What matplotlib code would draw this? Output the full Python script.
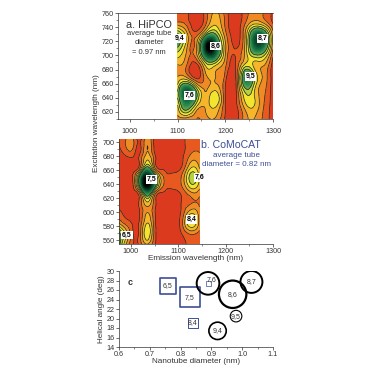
import numpy as np
import matplotlib
matplotlib.use('Agg')
import matplotlib.pyplot as plt
import matplotlib.tri as mtri
from matplotlib.colors import LinearSegmentedColormap

plt.rcParams['font.family'] = ['Liberation Sans', 'DejaVu Sans']

# panel a, HiPCO
hipco_em = [1100, 1120, 1140, 1160, 1180, 1200, 1220, 1240, 1260, 1280, 1300]
hipco_ex = [610, 625, 640, 655, 670, 685, 700, 715, 730, 745, 760]
hipco_z = [
    [2.6, 2.4, 2.0, 2.6, 2.8, 0.8, 0.3, 2.4, 3.0, 1.8, 0.5],
    [3.6, 6.5, 3.5, 3.2, 3.8, 1.0, 0.3, 3.0, 3.8, 2.0, 0.5],
    [5.0, 9.0, 6.0, 3.4, 4.8, 1.0, 0.3, 4.2, 4.2, 2.2, 0.5],
    [4.4, 8.0, 4.5, 2.8, 3.4, 1.0, 0.3, 6.0, 4.6, 2.4, 0.4],
    [3.0, 2.6, 0.5, 2.8, 3.0, 1.6, 0.5, 7.2, 5.6, 2.8, 0.4],
    [2.8, 1.8, 0.5, 4.2, 3.8, 2.2, 0.8, 4.5, 3.8, 3.0, 0.4],
    [4.4, 2.6, 2.8, 8.5, 8.0, 3.0, 1.0, 3.0, 5.6, 5.2, 1.2],
    [6.5, 3.2, 3.0, 10.5, 9.0, 3.2, 0.8, 2.8, 8.5, 8.5, 2.4],
    [6.2, 3.2, 1.6, 5.5, 6.0, 2.4, 0.5, 2.6, 8.0, 8.0, 2.4],
    [2.4, 1.6, 0.3, 2.0, 3.8, 1.8, 0.3, 1.8, 3.8, 3.2, 1.0],
    [1.6, 1.2, 0.4, 1.6, 3.2, 1.6, 0.4, 1.4, 2.6, 2.0, 0.8],
]
hipco_labels = ['9,4', '8,6', '8,7', '9,5', '7,6']
hipco_label_em = [1105, 1180, 1278, 1253, 1125]
hipco_label_ex = [724, 713, 724, 670, 643]

# panel b, CoMoCAT
como_em = [975, 990, 1005, 1020, 1035, 1050, 1065, 1080, 1095, 1110, 1125, 1145]
como_ex = [555, 570, 585, 600, 615, 630, 645, 660, 675, 690, 705]
como_z = [
    [6.5, 3.0, 1.0, 1.5, 3.0, 1.2, 0.4, 0.3, 0.4, 0.8, 1.2, 1.2],
    [6.5, 3.6, 1.0, 1.8, 4.8, 1.6, 0.4, 0.3, 0.4, 1.2, 2.2, 1.6],
    [3.0, 1.6, 0.8, 1.5, 4.0, 1.4, 0.4, 0.3, 0.4, 2.2, 4.8, 2.6],
    [1.2, 0.8, 0.6, 1.2, 3.0, 1.2, 0.4, 0.3, 0.4, 1.6, 3.6, 2.4],
    [0.5, 0.5, 0.6, 1.5, 4.0, 1.5, 0.4, 0.3, 0.4, 1.2, 1.8, 1.8],
    [0.4, 0.5, 0.7, 3.5, 8.5, 3.8, 1.2, 0.6, 0.8, 1.6, 3.0, 2.6],
    [0.4, 0.5, 1.2, 8.0, 11.5, 8.0, 2.8, 1.6, 1.6, 2.6, 5.2, 3.8],
    [0.4, 0.5, 0.7, 3.5, 8.0, 3.5, 1.2, 0.6, 0.8, 1.8, 4.4, 3.2],
    [0.4, 0.5, 0.6, 1.5, 4.0, 1.5, 0.5, 0.4, 0.5, 1.0, 2.6, 2.4],
    [0.8, 1.8, 1.8, 0.8, 3.0, 0.8, 0.4, 0.4, 0.5, 0.8, 1.6, 1.8],
    [1.0, 2.0, 2.0, 0.7, 2.6, 0.7, 0.4, 0.4, 0.5, 0.8, 1.6, 1.8],
]
como_labels = ['7,5', '7,6', '8,4', '6,5']
como_label_em = [1043, 1146, 1128, 992]
como_label_ex = [647, 650, 590, 568]

# panel c
square_d = [0.759, 0.829, 0.84, 0.89]
square_a = [26.9, 24.5, 19.1, 27.4]
square_size = [132, 207, 52, 16]
square_lw = [1.2, 1.2, 0.7, 0.5]
square_names = ['6,5', '7,5', '8,4', '']
circle_d = [0.889, 0.969, 1.03, 0.98, 0.92]
circle_a = [27.4, 25.1, 27.7, 20.5, 17.4]
circle_size = [266, 390, 250, 70, 156]
circle_lw = [1.4, 1.6, 1.4, 0.8, 1.2]
circle_names = ['7,6', '8,6', '8,7', '9,5', '9,4']

levels = [-5, 1, 2, 3, 4, 5, 6]
band_colors = ['#dc3a1f', '#e8591f', '#f08a24', '#f6b52a', '#f3e52f', '#b8cf3e']
peak_levels = np.arange(6, 12.6, 0.25)
peak_cmap = LinearSegmentedColormap.from_list('peak', ['#7fb24a', '#2f8f52', '#12683c',
                                                       '#0a4028', '#000000', '#000000'])
blue = '#3d4f96'
grey = '#333333'


def contour_panel(ax, em, ex, z):
    xx, yy = np.meshgrid(em, ex)
    tri = mtri.Triangulation(xx.ravel(), yy.ravel())
    refiner = mtri.UniformTriRefiner(tri)
    t2, z2 = refiner.refine_field(np.array(z).ravel(), subdiv=3)
    ax.tricontourf(t2, z2, levels=levels, colors=band_colors)
    ax.tricontourf(t2, z2, levels=peak_levels, cmap=peak_cmap)
    # lines stop at the rim of the green peaks
    ax.tricontour(t2, z2, levels=levels[1:], colors='#222222', linewidths=0.5)


def label_peaks(ax, xs, ys, names):
    for x, y, name in zip(xs, ys, names):
        ax.text(x, y, name, ha='center', va='center', fontsize=5, fontweight='bold',
                bbox=dict(facecolor='white', edgecolor='none', pad=0.5))


def style_axis(ax):
    ax.tick_params(axis='both', which='major', labelsize=5.2, length=2.2, width=0.5,
                   pad=1, colors=grey)
    ax.tick_params(axis='both', which='minor', length=1.3, width=0.4, colors=grey)
    for s in ax.spines.values():
        s.set_linewidth(0.5)
        s.set_color(grey)


W = 372.0
fig = plt.figure(figsize=(3.72, 3.72), dpi=100)
fig.patch.set_facecolor('white')

# a
ax1 = fig.add_axes([118 / W, 1 - 119 / W, 155 / W, 106 / W])
contour_panel(ax1, hipco_em, hipco_ex, hipco_z)
label_peaks(ax1, hipco_label_em, hipco_label_ex, hipco_labels)
ax1.set_xlim(975, 1300)
ax1.set_ylim(610, 760)
ax1.set_xticks([1000, 1100, 1200, 1300])
ax1.set_xticks([1050, 1150, 1250], minor=True)
ax1.set_yticks(np.arange(620, 761, 20))
ax1.set_yticks(np.arange(610, 760, 20), minor=True)
style_axis(ax1)
ax1.spines['right'].set_visible(False)
ax1.tick_params(axis='x', which='major', pad=4)
ax1.text(0.05, 0.89, 'a. HiPCO', transform=ax1.transAxes, fontsize=7.8, color=grey, va='center')
ax1.text(0.2, 0.717, 'average tube\ndiameter\n= 0.97 nm', transform=ax1.transAxes, fontsize=5.4,
         color=grey, ha='center', va='center', linespacing=1.45)

# b
ax2 = fig.add_axes([119 / W, 1 - 244 / W, 154 / W, 105 / W])
contour_panel(ax2, como_em, como_ex, como_z)
label_peaks(ax2, como_label_em, como_label_ex, como_labels)
ax2.set_xlim(975, 1300)
ax2.set_ylim(555, 705)
ax2.set_xticks([1000, 1100, 1200, 1300])
ax2.set_xticks([1050, 1150, 1250], minor=True)
ax2.set_yticks(np.arange(560, 701, 20))
ax2.set_yticks(np.arange(570, 705, 20), minor=True)
style_axis(ax2)
ax2.spines['top'].set_visible(False)
ax2.spines['right'].set_visible(False)
ax2.set_xlabel('Emission wavelength (nm)', fontsize=5.9, labelpad=-0.5, color=grey)
ax2.text(0.53, 0.94, 'b. CoMoCAT', transform=ax2.transAxes, fontsize=7.6, color=blue, va='center')
ax2.text(0.765, 0.80, 'average tube\ndiameter = 0.82 nm', transform=ax2.transAxes, fontsize=5.8,
         color=blue, ha='center', va='center', linespacing=1.3)
fig.text(96 / W, 1 - 123 / W, 'Excitation wavelength (nm)', rotation=90, fontsize=5.9,
         ha='center', va='center', color=grey)

# c
ax3 = fig.add_axes([119 / W, 1 - 347 / W, 154 / W, 76 / W])
ax3.scatter(square_d, square_a, s=square_size, marker='s', facecolors='white',
            edgecolors=blue, linewidths=square_lw, zorder=2)
ax3.scatter(circle_d, circle_a, s=circle_size, marker='o', facecolors='none',
            edgecolors='black', linewidths=circle_lw, zorder=3)
for d, a, name in zip(square_d, square_a, square_names):
    ax3.text(d, a, name, fontsize=5, ha='center', va='center', color=grey, zorder=4)
for d, a, name in zip(circle_d, circle_a, circle_names):
    ax3.text(d + (0.012 if name == '7,6' else 0), a + (0.8 if name == '7,6' else 0), name,
             fontsize=5, ha='center', va='center', color=grey, zorder=4)
ax3.set_xlim(0.6, 1.1)
ax3.set_ylim(14, 30)
ax3.set_xticks(np.arange(0.6, 1.11, 0.1))
ax3.set_xticks(np.arange(0.65, 1.1, 0.1), minor=True)
ax3.set_yticks(np.arange(14, 31, 2))
style_axis(ax3)
ax3.spines['top'].set_visible(False)
ax3.spines['right'].set_visible(False)
ax3.set_xlabel('Nanotube diameter (nm)', fontsize=5.9, labelpad=-0.5, color=grey)
ax3.set_ylabel('Helical angle (deg)', fontsize=5.9, labelpad=1, color=grey)
ax3.text(0.07, 0.85, 'c', transform=ax3.transAxes, fontsize=6.5, fontweight='bold',
         ha='center', va='center', color=grey)

fig.savefig('out.png', dpi=100)
